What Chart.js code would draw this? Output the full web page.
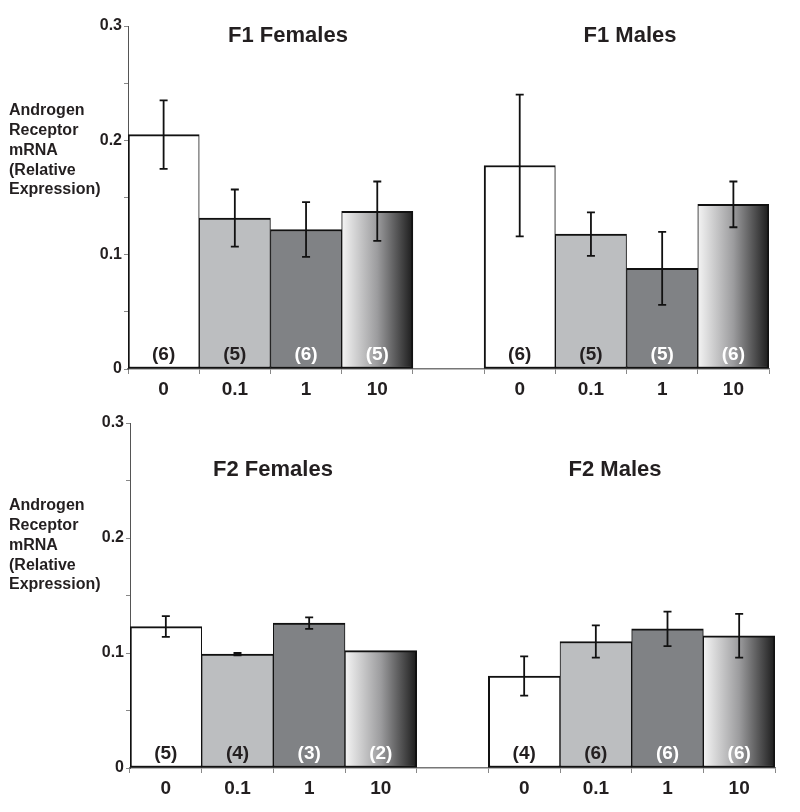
<!DOCTYPE html>
<html>
<head>
<meta charset="utf-8">
<script src="https://cdn.jsdelivr.net/npm/chart.js@4/dist/chart.umd.min.js"></script>
<style>
  body { margin: 0; background: #fff; }
  canvas { display: block; }
</style>
</head>
<body>
<canvas id="f1" width="800" height="400"></canvas>
<canvas id="f2" width="800" height="412"></canvas>
<script>
// Doses (x categories), blank slot separates females / males
const categories = ["0", "0.1", "1", "10", "", "0", "0.1", "1", "10"];
const yTickLabels = ["0", "0.1", "0.2", "0.3"];

// F1 generation
const f1Means = [0.205, 0.132, 0.122, 0.138, null, 0.178, 0.118, 0.088, 0.144];
const f1Errors = [0.030, 0.025, 0.024, 0.026, null, 0.062, 0.019, 0.032, 0.020];
const f1Counts = ["(6)", "(5)", "(6)", "(5)", "", "(6)", "(5)", "(5)", "(6)"];

// F2 generation
const f2Means = [0.123, 0.099, 0.126, 0.102, null, 0.080, 0.110, 0.121, 0.115];
const f2Errors = [0.009, 0.001, 0.005, 0, null, 0.017, 0.014, 0.015, 0.019];
const f2Counts = ["(5)", "(4)", "(3)", "(2)", "", "(4)", "(6)", "(6)", "(6)"];

const FONT = "'Liberation Sans', Arial, Helvetica, sans-serif";
const darkText = "#231f20";

// per dose styling (0, 0.1, 1, 10)
function barFill(ctx) {
  const i = ctx.dataIndex % 5;
  if (i === 0) return "#ffffff";
  if (i === 1) return "#bcbec0";
  if (i === 2) return "#808285";
  const chart = ctx.chart;
  const x = chart.scales.x;
  if (!x || !chart.chartArea) return "#999";
  const w = x.width / categories.length;
  const cx = x.getPixelForValue(ctx.dataIndex);
  const g = chart.ctx.createLinearGradient(cx - w / 2, 0, cx + w / 2, 0);
  g.addColorStop(0, "#f4f4f4");
  g.addColorStop(0.5, "#9c9c9e");
  g.addColorStop(1, "#1c1c1c");
  return g;
}

function countColor(i) {
  const k = i % 5;
  return (k === 2 || k === 3) ? "#ffffff" : darkText;
}

function makePanel(id, means, errors, counts, opts) {
  const overlay = {
    id: "overlay",
    afterDatasetsDraw(chart) {
      const c = chart.ctx;
      const y = chart.scales.y;
      const area = chart.chartArea;
      const bars = chart.getDatasetMeta(0).data;
      c.save();
      // error bars
      c.strokeStyle = "#111";
      c.lineWidth = 1.8;
      bars.forEach((bar, i) => {
        if (means[i] == null || !errors[i]) return;
        const top = y.getPixelForValue(means[i] + errors[i]);
        const bot = y.getPixelForValue(means[i] - errors[i]);
        c.beginPath();
        c.moveTo(bar.x, top); c.lineTo(bar.x, bot);
        c.moveTo(bar.x - 4, top); c.lineTo(bar.x + 4, top);
        c.moveTo(bar.x - 4, bot); c.lineTo(bar.x + 4, bot);
        c.stroke();
      });
      // sample sizes
      c.font = "bold 19px " + FONT;
      c.textAlign = "center";
      c.textBaseline = "middle";
      bars.forEach((bar, i) => {
        if (!counts[i]) return;
        c.fillStyle = countColor(i);
        c.fillText(counts[i], bar.x, area.bottom - 14);
      });
      // panel titles
      c.font = "bold 22px " + FONT;
      c.fillStyle = darkText;
      opts.titles.forEach(t => c.fillText(t.text, t.x, area.top + opts.titleDy));
      // y axis title
      c.font = "bold 16px " + FONT;
      c.textAlign = "left";
      ["Androgen", "Receptor", "mRNA", "(Relative", "Expression)"].forEach((s, k) => {
        c.fillText(s, 9, area.top + opts.yTitleDy + k * 19.7);
      });
      c.restore();
    }
  };

  return new Chart(document.getElementById(id), {
    type: "bar",
    data: {
      labels: categories,
      datasets: [{
        data: means,
        backgroundColor: barFill,
        borderColor: "#111",
        borderWidth: ctx => ({
          top: 2, bottom: 2,
          left: (ctx.dataIndex % 5 === 0) ? 2 : 1,
          right: (ctx.dataIndex % 5 === 3 || ctx.dataIndex === 8) ? 2 : 1
        }),
        borderSkipped: false,
        barPercentage: 1,
        categoryPercentage: 1
      }]
    },
    options: {
      responsive: false,
      animation: false,
      events: [],
      layout: { padding: { left: 0, right: opts.padRight, top: opts.padTop, bottom: 0 } },
      plugins: { legend: { display: false }, tooltip: { enabled: false } },
      scales: {
        x: {
          grid: { drawOnChartArea: false, drawTicks: true, tickLength: 5, color: "#888" },
          border: { display: true, color: "#777", width: 1.5 },
          ticks: { color: darkText, font: { family: FONT, size: 19, weight: "bold" }, padding: 4, maxRotation: 0 },
          afterFit: s => { s.height = opts.xHeight; }
        },
        y: {
          min: 0, max: 0.3,
          grid: { drawOnChartArea: false, drawTicks: true, tickLength: 4, color: "#888" },
          border: { display: true, color: "#555", width: 1 },
          ticks: {
            stepSize: 0.05,
            color: darkText,
            padding: 2,
            font: { family: FONT, size: 16, weight: "bold" },
            callback: v => {
              const k = Math.round(v * 10);
              return Math.abs(v * 10 - k) < 1e-6 ? yTickLabels[k] : "";
            }
          },
          afterFit: s => { s.width = opts.yWidth; }
        }
      }
    },
    plugins: [overlay]
  });
}

makePanel("f1", f1Means, f1Errors, f1Counts, {
  yWidth: 128, padRight: 31, padTop: 26, xHeight: 31,
  titleDy: 10, yTitleDy: 85,
  titles: [{ text: "F1 Females", x: 288 }, { text: "F1 Males", x: 630 }]
});

makePanel("f2", f2Means, f2Errors, f2Counts, {
  yWidth: 130, padRight: 25, padTop: 23, xHeight: 44,
  titleDy: 47, yTitleDy: 83,
  titles: [{ text: "F2 Females", x: 273 }, { text: "F2 Males", x: 615 }]
});
</script>
</body>
</html>
